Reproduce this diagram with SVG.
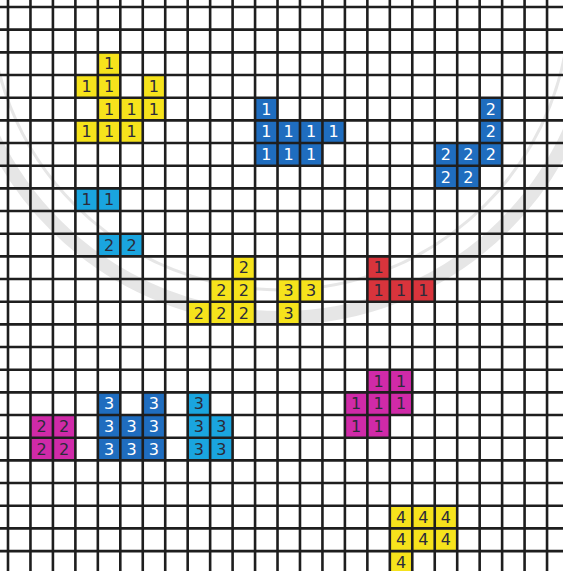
<svg xmlns="http://www.w3.org/2000/svg" width="563" height="571" viewBox="0 0 563 571">
<style>
.c rect{width:22.46px;height:22.67px}
.c text{font-family:"DejaVu Sans","Liberation Sans",sans-serif;font-size:16px;text-anchor:middle}
.y rect{fill:#f6e31c}.y text{fill:#2b2b3a}
.b rect{fill:#1f6dbf}.b text{fill:#ffffff}
.cy rect{fill:#1aa5df}.cy text{fill:#2b2b3a}
.r rect{fill:#d8343c}.r text{fill:#2b2b3a}
.m rect{fill:#d02aa8}.m text{fill:#2b2b3a}
.grid{fill:none;stroke:#1e1e1e;stroke-width:2.6}
.wm{fill:none;stroke:#d9d9d9}
</style>
<rect width="563" height="571" fill="#ffffff"/>
<g id="watermark" opacity="0.65">
<circle class="wm" cx="280" cy="0" r="318" stroke-width="14"/>
<circle class="wm" cx="280" cy="0" r="290" stroke-width="3"/>
</g>
<g id="yellow-1" class="c y">
<g transform="translate(97.84,52.34)"><rect/><text x="11.2" y="17">1</text></g>
<g transform="translate(75.38,75.01)"><rect/><text x="11.2" y="17">1</text></g>
<g transform="translate(97.84,75.01)"><rect/><text x="11.2" y="17">1</text></g>
<g transform="translate(142.76,75.01)"><rect/><text x="11.2" y="17">1</text></g>
<g transform="translate(97.84,97.68)"><rect/><text x="11.2" y="17">1</text></g>
<g transform="translate(120.3,97.68)"><rect/><text x="11.2" y="17">1</text></g>
<g transform="translate(142.76,97.68)"><rect/><text x="11.2" y="17">1</text></g>
<g transform="translate(75.38,120.35)"><rect/><text x="11.2" y="17">1</text></g>
<g transform="translate(97.84,120.35)"><rect/><text x="11.2" y="17">1</text></g>
<g transform="translate(120.3,120.35)"><rect/><text x="11.2" y="17">1</text></g>
</g>
<g id="blue-1" class="c b">
<g transform="translate(255.06,97.68)"><rect/><text x="11.2" y="17">1</text></g>
<g transform="translate(255.06,120.35)"><rect/><text x="11.2" y="17">1</text></g>
<g transform="translate(277.52,120.35)"><rect/><text x="11.2" y="17">1</text></g>
<g transform="translate(299.98,120.35)"><rect/><text x="11.2" y="17">1</text></g>
<g transform="translate(322.44,120.35)"><rect/><text x="11.2" y="17">1</text></g>
<g transform="translate(255.06,143.02)"><rect/><text x="11.2" y="17">1</text></g>
<g transform="translate(277.52,143.02)"><rect/><text x="11.2" y="17">1</text></g>
<g transform="translate(299.98,143.02)"><rect/><text x="11.2" y="17">1</text></g>
</g>
<g id="blue-2" class="c b">
<g transform="translate(479.66,97.68)"><rect/><text x="11.2" y="17">2</text></g>
<g transform="translate(479.66,120.35)"><rect/><text x="11.2" y="17">2</text></g>
<g transform="translate(434.74,143.02)"><rect/><text x="11.2" y="17">2</text></g>
<g transform="translate(457.2,143.02)"><rect/><text x="11.2" y="17">2</text></g>
<g transform="translate(479.66,143.02)"><rect/><text x="11.2" y="17">2</text></g>
<g transform="translate(434.74,165.69)"><rect/><text x="11.2" y="17">2</text></g>
<g transform="translate(457.2,165.69)"><rect/><text x="11.2" y="17">2</text></g>
</g>
<g id="cyan-1" class="c cy">
<g transform="translate(75.38,188.36)"><rect/><text x="11.2" y="17">1</text></g>
<g transform="translate(97.84,188.36)"><rect/><text x="11.2" y="17">1</text></g>
</g>
<g id="cyan-2" class="c cy">
<g transform="translate(97.84,233.7)"><rect/><text x="11.2" y="17">2</text></g>
<g transform="translate(120.3,233.7)"><rect/><text x="11.2" y="17">2</text></g>
</g>
<g id="yellow-2" class="c y">
<g transform="translate(232.6,256.37)"><rect/><text x="11.2" y="17">2</text></g>
<g transform="translate(210.14,279.04)"><rect/><text x="11.2" y="17">2</text></g>
<g transform="translate(232.6,279.04)"><rect/><text x="11.2" y="17">2</text></g>
<g transform="translate(187.68,301.71)"><rect/><text x="11.2" y="17">2</text></g>
<g transform="translate(210.14,301.71)"><rect/><text x="11.2" y="17">2</text></g>
<g transform="translate(232.6,301.71)"><rect/><text x="11.2" y="17">2</text></g>
</g>
<g id="yellow-3" class="c y">
<g transform="translate(277.52,279.04)"><rect/><text x="11.2" y="17">3</text></g>
<g transform="translate(299.98,279.04)"><rect/><text x="11.2" y="17">3</text></g>
<g transform="translate(277.52,301.71)"><rect/><text x="11.2" y="17">3</text></g>
</g>
<g id="red-1" class="c r">
<g transform="translate(367.36,256.37)"><rect/><text x="11.2" y="17">1</text></g>
<g transform="translate(367.36,279.04)"><rect/><text x="11.2" y="17">1</text></g>
<g transform="translate(389.82,279.04)"><rect/><text x="11.2" y="17">1</text></g>
<g transform="translate(412.28,279.04)"><rect/><text x="11.2" y="17">1</text></g>
</g>
<g id="magenta-1" class="c m">
<g transform="translate(367.36,369.72)"><rect/><text x="11.2" y="17">1</text></g>
<g transform="translate(389.82,369.72)"><rect/><text x="11.2" y="17">1</text></g>
<g transform="translate(344.9,392.39)"><rect/><text x="11.2" y="17">1</text></g>
<g transform="translate(367.36,392.39)"><rect/><text x="11.2" y="17">1</text></g>
<g transform="translate(389.82,392.39)"><rect/><text x="11.2" y="17">1</text></g>
<g transform="translate(344.9,415.06)"><rect/><text x="11.2" y="17">1</text></g>
<g transform="translate(367.36,415.06)"><rect/><text x="11.2" y="17">1</text></g>
</g>
<g id="magenta-2" class="c m">
<g transform="translate(30.46,415.06)"><rect/><text x="11.2" y="17">2</text></g>
<g transform="translate(52.92,415.06)"><rect/><text x="11.2" y="17">2</text></g>
<g transform="translate(30.46,437.73)"><rect/><text x="11.2" y="17">2</text></g>
<g transform="translate(52.92,437.73)"><rect/><text x="11.2" y="17">2</text></g>
</g>
<g id="blue-3" class="c b">
<g transform="translate(97.84,392.39)"><rect/><text x="11.2" y="17">3</text></g>
<g transform="translate(142.76,392.39)"><rect/><text x="11.2" y="17">3</text></g>
<g transform="translate(97.84,415.06)"><rect/><text x="11.2" y="17">3</text></g>
<g transform="translate(120.3,415.06)"><rect/><text x="11.2" y="17">3</text></g>
<g transform="translate(142.76,415.06)"><rect/><text x="11.2" y="17">3</text></g>
<g transform="translate(97.84,437.73)"><rect/><text x="11.2" y="17">3</text></g>
<g transform="translate(120.3,437.73)"><rect/><text x="11.2" y="17">3</text></g>
<g transform="translate(142.76,437.73)"><rect/><text x="11.2" y="17">3</text></g>
</g>
<g id="cyan-3" class="c cy">
<g transform="translate(187.68,392.39)"><rect/><text x="11.2" y="17">3</text></g>
<g transform="translate(187.68,415.06)"><rect/><text x="11.2" y="17">3</text></g>
<g transform="translate(210.14,415.06)"><rect/><text x="11.2" y="17">3</text></g>
<g transform="translate(187.68,437.73)"><rect/><text x="11.2" y="17">3</text></g>
<g transform="translate(210.14,437.73)"><rect/><text x="11.2" y="17">3</text></g>
</g>
<g id="yellow-4" class="c y">
<g transform="translate(389.82,505.74)"><rect/><text x="11.2" y="17">4</text></g>
<g transform="translate(412.28,505.74)"><rect/><text x="11.2" y="17">4</text></g>
<g transform="translate(434.74,505.74)"><rect/><text x="11.2" y="17">4</text></g>
<g transform="translate(389.82,528.41)"><rect/><text x="11.2" y="17">4</text></g>
<g transform="translate(412.28,528.41)"><rect/><text x="11.2" y="17">4</text></g>
<g transform="translate(434.74,528.41)"><rect/><text x="11.2" y="17">4</text></g>
<g transform="translate(389.82,551.08)"><rect/><text x="11.2" y="17">4</text></g>
</g>
<g id="grid">
<path class="grid" d="M8 0V571M30.46 0V571M52.92 0V571M75.38 0V571M97.84 0V571M120.3 0V571M142.76 0V571M165.22 0V571M187.68 0V571M210.14 0V571M232.6 0V571M255.06 0V571M277.52 0V571M299.98 0V571M322.44 0V571M344.9 0V571M367.36 0V571M389.82 0V571M412.28 0V571M434.74 0V571M457.2 0V571M479.66 0V571M502.12 0V571M524.58 0V571M547.04 0V571"/>
<path class="grid" d="M0 7H563M0 29.67H563M0 52.34H563M0 75.01H563M0 97.68H563M0 120.35H563M0 143.02H563M0 165.69H563M0 188.36H563M0 211.03H563M0 233.7H563M0 256.37H563M0 279.04H563M0 301.71H563M0 324.38H563M0 347.05H563M0 369.72H563M0 392.39H563M0 415.06H563M0 437.73H563M0 460.4H563M0 483.07H563M0 505.74H563M0 528.41H563M0 551.08H563"/>
</g>
</svg>
